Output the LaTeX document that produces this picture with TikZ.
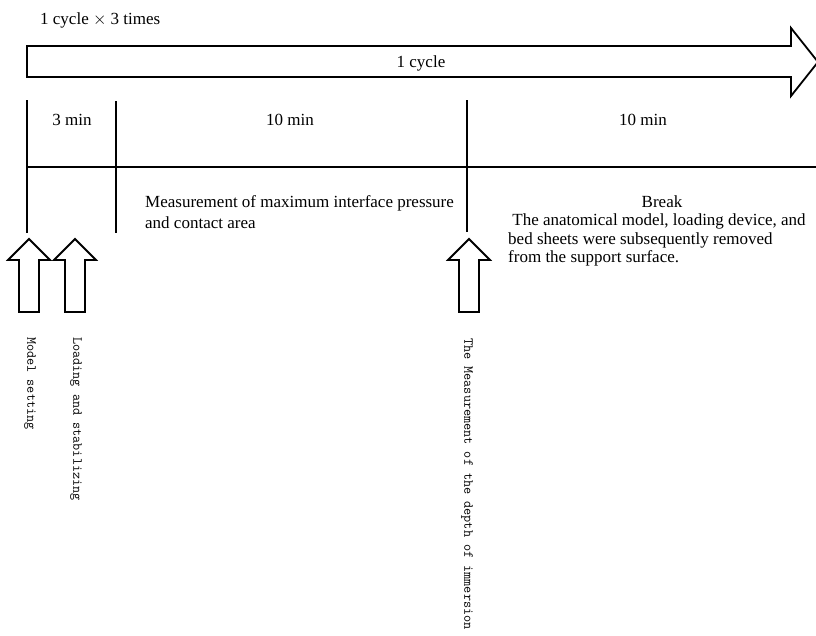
\documentclass[tikz,border=0pt]{standalone}
\usepackage{fontspec}
\setmainfont{Liberation Serif}
\usetikzlibrary{positioning}
\tikzstyle{tline} = [line width=1.8pt]
\tikzstyle{blockarrow} = [line width=1.8pt, fill=white, line join=miter]
\tikzstyle{lbl} = [font=\fontsize{17}{19}\selectfont, inner sep=0pt]
\tikzstyle{vlbl} = [font=\ttfamily\fontsize{13.8}{15}\selectfont, rotate=-90, anchor=west, inner sep=0pt]

\begin{document}
\begin{tikzpicture}[x=1pt, y=-1pt]
        \useasboundingbox (0,0) rectangle (816,635);
        % big cycle arrow
        \draw[blockarrow] (27,46) -- (791,46) -- (791,28) -- (818,62) -- (791,96) -- (791,77) -- (27,77) -- cycle;
        \node[lbl, anchor=base west] (times) at (40,24) {1 cycle $\times$ 3 times};
        \node[lbl] (cycle) at (421,63) {1 cycle};
        % time axis
        \coordinate (t0) at (27,100);   \coordinate (b0) at (27,233);
        \coordinate (t1) at (116,101);  \coordinate (b1) at (116,233);
        \coordinate (t2) at (467,100);  \coordinate (b2) at (467,232);
        \coordinate (h0) at (27,167);   \coordinate (h1) at (816,167);
        \draw[tline] (t0) -- (b0);
        \draw[tline] (t1) -- (b1);
        \draw[tline] (t2) -- (b2);
        \draw[tline] (h0) -- (h1);
        \node[lbl, anchor=base] (min3) at (72,125) {3 min};
        \node[lbl, anchor=base] (min10a) at (290,125) {10 min};
        \node[lbl, anchor=base] (min10b) at (643,125) {10 min};
        % phases
        \node[lbl, anchor=north west, align=left, font=\fontsize{17}{21}\selectfont] (measure) at (145,195.5) {Measurement of maximum interface pressure\\and contact area};
        \node[lbl, anchor=base] (break) at (662,207) {Break};
        \node[lbl, anchor=north west, align=left, font=\fontsize{17}{18.5}\selectfont] (removed) at (508,213.5) {~The anatomical model, loading device, and\\bed sheets were subsequently removed\\from the support surface.};
        % event arrows
        \foreach \x in {29,75,469}
            \draw[blockarrow] (\x,239) -- (\x+21,260) -- (\x+10,260) -- (\x+10,312) -- (\x-10,312) -- (\x-10,260) -- (\x-21,260) -- cycle;
        \node[vlbl] (setting) at (30,337) {Model setting};
        \node[vlbl] (loading) at (76,337) {Loading and stabilizing};
        \node[vlbl] (depth) at (467,338) {The Measurement of the depth of immersion};
\end{tikzpicture}
\end{document}
